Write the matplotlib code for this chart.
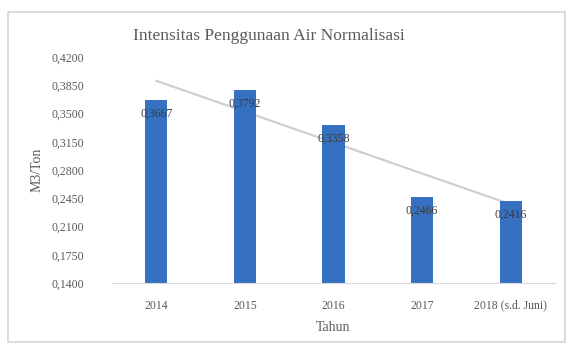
import numpy as np
import matplotlib
matplotlib.use("Agg")
import matplotlib.pyplot as plt
from matplotlib.patches import Rectangle

plt.rcParams['font.family'] = ['Liberation Serif', 'DejaVu Serif']

years = ["2014", "2015", "2016", "2017", "2018 (s.d. Juni)"]
intensity = [0.3667, 0.3792, 0.3358, 0.2466, 0.2416]
y_ticks = [0.1400, 0.1750, 0.2100, 0.2450, 0.2800, 0.3150, 0.3500, 0.3850, 0.4200]

def fmt(v):
    return f"{v:.4f}".replace('.', ',')

fig = plt.figure(figsize=(5.73, 3.5), dpi=100)
fig.patch.set_facecolor('white')
fig.patches.append(Rectangle((8/573, 8/350), 557/573, 330/350, transform=fig.transFigure,
                             fill=False, edgecolor='#d4d4d4', lw=1.2))

ax = fig.add_axes([112/573, 67/350, 443/573, 226/350])
x = np.arange(len(years))
bars = ax.bar(x, intensity, width=0.25, color='#3571c0', zorder=2)

# linear trend over the series
k, b = np.polyfit(x, intensity, 1)
ax.plot(x, k * x + b, color='#cfcfcf', lw=1.6, zorder=1)

for xi, v in zip(x, intensity):
    ax.annotate(fmt(v), (xi, v), xytext=(0, -14), textcoords='offset pixels',
                ha='center', va='center', fontsize=8.5, color='#3a3a3a', zorder=4)

ax.set_xlim(-0.5, 4.5)
ax.set_ylim(y_ticks[0], y_ticks[-1])
ax.set_yticks(y_ticks)
ax.set_yticklabels([fmt(t) for t in y_ticks])
ax.set_xticks(x)
ax.set_xticklabels(years)
ax.tick_params(axis='both', labelsize=8.5, colors='#595959', length=0)
ax.tick_params(axis='y', pad=20)
ax.tick_params(axis='x', pad=12)
for s in ['top', 'right', 'left']:
    ax.spines[s].set_visible(False)
ax.spines['bottom'].set_color('#d9d9d9')

fig.text(269/573, 1 - 36/350, "Intensitas Penggunaan Air Normalisasi", fontsize=12.5,
         color='#595959', ha='center', va='center')
ax.set_xlabel("Tahun", fontsize=10, color='#595959', labelpad=7)
ax.set_ylabel("M3/Ton", fontsize=10, color='#595959', labelpad=6)

fig.savefig("out.png", dpi=100)
